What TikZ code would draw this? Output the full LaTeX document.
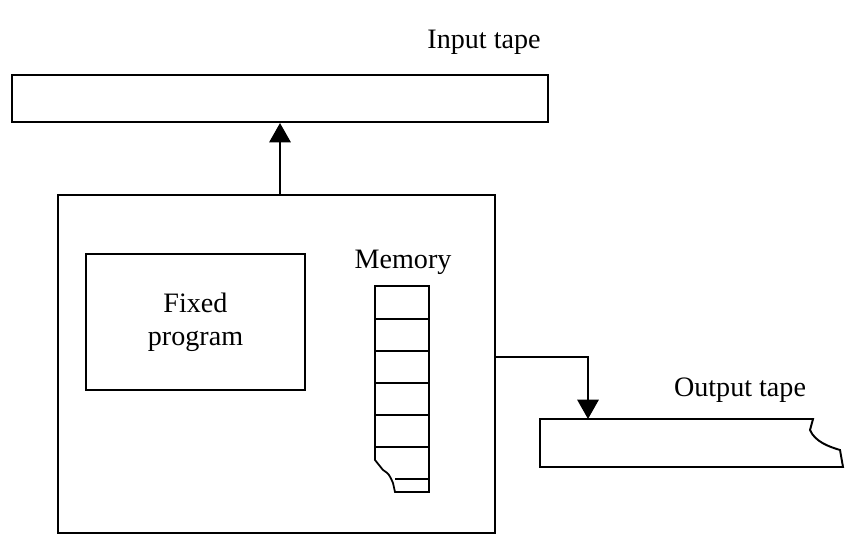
\documentclass[tikz,border=0pt]{standalone}
\usepackage{fontspec}
\setmainfont{Liberation Serif}
\usetikzlibrary{arrows.meta,positioning}

\begin{document}
\begin{tikzpicture}[x=0.02cm,y=-0.02cm,>={Triangle[length=11pt,width=12pt]},
    every node/.style={font=\fontsize{16}{19}\selectfont},
    box/.style={draw,line width=1.1pt,inner sep=0pt},
    cell/.style={line width=1pt},
    link/.style={->,line width=1.6pt}]
    \useasboundingbox (0,0) rectangle (847,539);
    % tapes and machine
    \node[box,minimum width=10.72cm,minimum height=0.94cm] (intape) at (280,98.5) {};
    \node (inlabel) at (484,42) {Input tape};
    \node[box,minimum width=8.74cm,minimum height=6.76cm] (cpu) at (276.5,364) {};
    \node[box,minimum width=4.38cm,minimum height=2.72cm,align=center] (prog) at (195.5,322) {Fixed\\program};
    \node (memlabel) at (403,262) {Memory};
    % memory cells, torn at the bottom
    \draw[cell] (375,286) -- (429,286) -- (429,492) -- (395,492) -- (393,483)
      .. controls (389,474) .. (383,470) -- (375,460) -- cycle;
    \foreach \y in {319,351,383,415,447}
      \draw[cell] (375,\y) -- (429,\y);
    \draw[cell] (395,479) -- (429,479);
    % output tape, torn at the right end
    \draw[box] (540,419) -- (813,419) -- (810,430)
      .. controls (815,442) and (830,447) .. (840,450) -- (843,467) -- (540,467) -- cycle;
    \coordinate (outtop) at (588,419);
    \coordinate (tap) at (495,357);
    \node (outlabel) at (740,390) {Output tape};
    % connectors
    \draw[link] (cpu.north -| intape.south) -- (intape.south);
    \draw[link] (tap) -| (outtop);
\end{tikzpicture}
\end{document}
